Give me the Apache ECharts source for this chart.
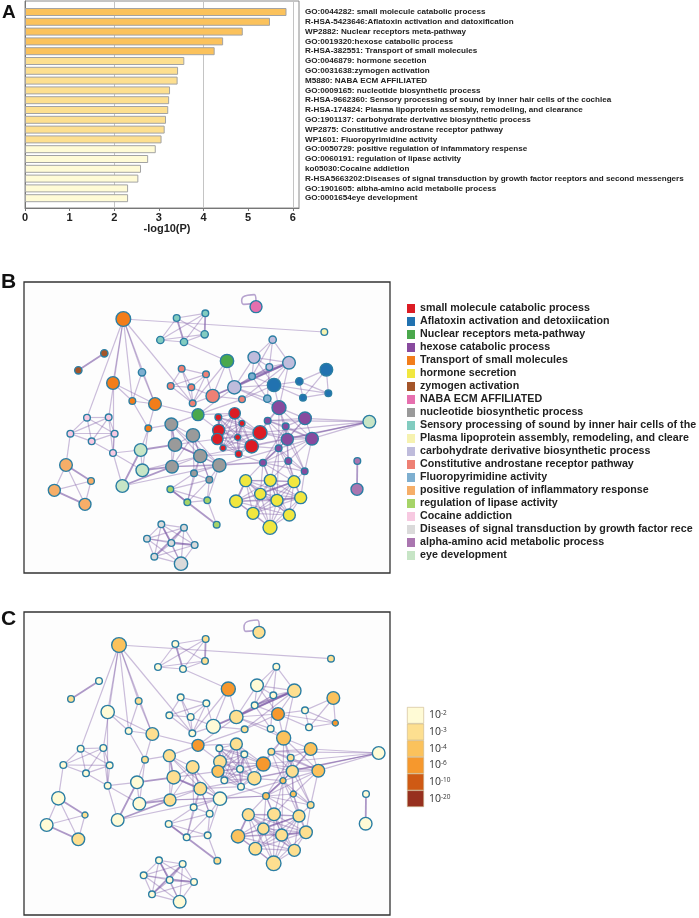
<!DOCTYPE html>
<html><head><meta charset="utf-8">
<style>html,body{margin:0;padding:0;background:#fff}#c{width:699px;height:918px}</style>
<script src="https://cdn.jsdelivr.net/npm/echarts@6/dist/echarts.min.js"></script>
</head><body><div id="c"></div>
<script>
// Panel A
const termLabels = ["GO:0044282: small molecule catabolic process","R-HSA-5423646:Aflatoxin activation and datoxification","WP2882: Nuclear receptors meta-pathway","GO:0019320:hexose catabolic process","R-HSA-382551: Transport of small molecules","GO:0046879: hormone secetion","GO:0031638:zymogen activation","M5880: NABA ECM AFFILIATED","GO:0009165: nucleotide biosynthetic process","R-HSA-9662360: Sensory processing of sound by inner hair cells of the cochlea","R-HSA-174824: Plasma lipoprotein assembly, remodeling, and clearance","GO:1901137: carbohydrate derivative biosynthetic process","WP2875: Constitutive androstane receptor pathway","WP1601: Fluoropyrimidine activity","GO:0050729: positive regulation of infammatory respense","GO:0060191: regulation of lipase activity","ko05030:Cocaine addietion","R-HSA5663202:Diseases of signal transduction by growth factor reeptors and second messengers","GO:1901605: albha-amino acid metabolie process","GO:0001654eye development"];
const logP = [5.86,5.49,4.88,4.44,4.25,3.57,3.43,3.42,3.25,3.23,3.21,3.16,3.13,3.06,2.93,2.76,2.60,2.54,2.31,2.31];
const pClass = [2,2,2,2,2,1,1,1,1,1,1,1,1,1,0,0,0,0,0,0];

// Panel B / C legends
const clusterNames = ["small molecule catabolic process","Aflatoxin activation and detoxiication","Nuclear receptors meta-pathway","hexose catabolic process","Transport of small molecules","hormone secretion","zymogen activation","NABA ECM AFFILIATED","nucleotide biosynthetic process","Sensory processing of sound by inner hair cells of the","Plasma lipoprotein assembly, remodeling, and cleare","carbohydrate derivative biosynthetic process","Constitutive androstane receptor pathway","Fluoropyrimidine activity","positive regulation of inflammatory response","regulation of lipase activity","Cocaine addiction","Diseases of signal transduction by growth factor rece","alpha-amino acid metabolic process","eye development"];
const clusterIds = ["r","b","g","p","o","y","w","k","e","t","a","l","s","f","n","v","i","d","m","h"];
const scaleLabels = ["10{s|-2}","10{s|-3}","10{s|-4}","10{s|-6}","10{s|-10}","10{s|-20}"];

// network B nodes: x, y, radius
const rB=[[704,459,17],[656,510,18],[652,536,17],[780,517,21],[755,558,20],[655,471,10],[726,489,9],[713,531,9],[669,563,9],[716,581,10]];
const bB=[[979,328,19],[822,374,20],[898,363,11],[909,412,10],[985,399,10]];
const gB=[[681,302,20],[594,463,18]];
const pB=[[837,442,21],[915,474,19],[862,537,18],[936,535,19],[803,481,10],[857,498,10],[836,564,10],[865,602,10],[789,607,10],[914,633,10]];
const oB=[[370,176,22],[339,368,19],[465,431,19],[397,422,10],[445,504,10]];
const yB=[[737,661,18],[811,660,18],[882,664,18],[781,701,17],[831,720,18],[902,712,18],[708,723,19],[759,759,18],[868,764,18],[810,801,21]];
const wB=[[313,279,11],[235,330,11]];
const kB=[[768,139,18]];
const eB=[[514,492,19],[579,525,20],[525,553,20],[601,587,20],[516,619,19],[658,615,20],[582,639,10],[628,658,10]];
const tB=[[530,173,10],[616,159,10],[481,239,11],[552,245,11],[614,222,11]];
const aB=[[973,215,10]];
const lB=[[762,291,18],[867,307,19],[703,381,20],[818,238,11],[808,320,10]];
const sB=[[638,407,20],[545,325,10],[618,342,10],[512,377,10],[574,381,10],[578,429,10],[726,417,10]];
const fB=[[426,336,11],[756,348,10],[802,415,11]];
const nB=[[198,614,19],[163,690,18],[255,732,18],[273,662,10]];
const vB=[[511,687,10],[562,726,10],[622,720,10],[650,793,10]];
const iB=[[261,472,10],[326,471,10],[211,520,10],[344,520,10],[275,543,10],[339,578,10]];
const dB=[[484,792,10],[552,802,10],[441,835,10],[514,848,10],[584,854,10],[463,889,10],[543,910,20]];
const mB=[[1072,602,10],[1071,687,18]];
const hB=[[1108,484,19],[422,569,19],[427,630,19],[367,677,19]];

// network C nodes: x, y, radius, p-value class
const rC=[[709,432,18,1],[660,485,19,1],[654,514,18,2],[790,492,21,3],[763,535,20,1],[658,445,10,0],[733,463,10,0],[720,507,10,0],[673,541,10,0],[723,560,10,0]];
const bC=[[1000,294,19,2],[834,342,19,3],[915,331,10,0],[927,382,10,0],[1006,369,9,3]];
const gC=[[685,267,21,3],[594,436,18,3]];
const pC=[[851,414,21,2],[932,447,19,2],[877,514,18,1],[955,512,19,2],[814,455,10,1],[872,473,10,1],[849,542,9,2],[880,582,9,2],[798,588,10,2],[932,615,10,1]];
const oC=[[357,135,22,2],[323,336,20,0],[457,402,19,1],[386,393,10,0],[435,479,10,1]];
const yC=[[745,644,18,1],[822,643,19,1],[897,648,18,1],[790,686,17,1],[845,705,18,1],[918,697,19,1],[714,709,20,2],[766,746,19,1],[883,751,18,1],[821,790,22,1]];
const wC=[[297,243,10,0],[213,297,10,1]];
const kC=[[777,97,18,1]];
const eC=[[508,467,18,1],[578,501,19,1],[521,532,20,1],[601,566,19,1],[510,600,18,1],[660,596,20,0],[581,622,10,0],[629,641,10,0]];
const tC=[[526,132,10,0],[617,117,10,1],[474,201,10,0],[549,207,10,0],[615,183,10,1]];
const aC=[[993,176,10,1]];
const lC=[[771,256,19,0],[883,272,20,1],[709,351,20,1],[829,200,10,0],[820,286,10,0]];
const sC=[[640,379,21,0],[542,292,10,0],[619,310,10,0],[508,346,10,0],[572,351,10,0],[577,400,10,0],[734,388,10,1]];
const fC=[[416,303,10,1],[764,316,10,0],[812,386,10,0]];
const nC=[[175,595,20,0],[140,675,19,0],[235,718,19,1],[255,645,9,1]];
const vC=[[506,672,10,0],[560,712,10,0],[623,706,10,0],[652,782,10,1]];
const iC=[[242,446,10,0],[310,444,10,0],[190,495,10,0],[329,496,10,0],[258,520,10,0],[323,557,10,0]];
const dC=[[477,781,10,0],[548,792,10,0],[431,826,10,0],[509,840,10,0],[582,846,10,0],[456,883,10,0],[539,905,19,0]];
const mC=[[1098,582,10,0],[1097,671,19,0]];
const hC=[[1136,459,19,0],[411,547,19,0],[418,611,19,0],[353,660,19,0]];

// self-loop of the lone NABA node
const loopB=[[756,130],[731,132],[725,120],[743,105],[763,103],[768,124]];
const loopC=[[762,92],[737,94],[732,82],[750,62],[772,60],[778,82]];

// edges: fully connected clusters, then single links
const cliques=[
 ["t0","t1","t2","t3","t4"],["b0","b2","b3","b4"],["b1","b2","b3","b4"],
 ["s1","s2","s3","s4","s5"],["s0","s2","s4","s5"],
 ["r0","r1","r2","r3","r4","r5","r6","r7","r8","r9"],
 ["p0","p1","p2","p3","p4","p5","p6"],["p2","p3","p5","p6","p7","p8","p9"],
 ["y0","y1","y2","y3","y4","y5","y6","y7","y8","y9"],
 ["e0","e1","e2","e3","e4","e5"],["e1","e3","e5","e6","e7"],
 ["i0","i1","i2","i3","i4"],["n0","n1","n2","n3"],
 ["d0","d1","d2","d3","d4","d5","d6"],
 ["l0","l1","l3","l4","f1"],["l2","l4","f1","f2"]
];
const singleLinks=[
 ["o0","i0"],["o0","i1"],["o0","o1"],["o0","o3"],["o0","f0"],["o0","o2"],["o0","a0"],["o0","s5"],
 ["o1","o3"],["o1","o2"],["o1","i5"],["o3","o2"],["f0","o3"],["f0","o2"],["o2","o4"],["o3","o4"],
 ["o4","h1"],["o4","h2"],["o4","e0"],["o2","g1"],["e0","g1"],["t3","g0"],["g0","l2"],["g0","s0"],["g0","s5"],
 ["s0","s6"],["s0","l2"],["s6","l1"],["s6","b1"],["g1","s6"],["g1","l2"],["g1","r0"],["g1","r1"],
 ["l2","l0"],["l2","b1"],["l2","p0"],["f2","p0"],["b1","p0"],["l1","b1"],["l0","b1"],["f1","b1"],["l1","p0"],
 ["r3","p0"],["r3","p4"],["r3","p2"],["r3","p3"],["r4","p6"],["r9","p8"],
 ["h0","p1"],["h0","p2"],["h0","p3"],["h0","p4"],["h0","r3"],["h0","e3"],["h0","r4"],
 ["h1","h3"],["h1","h2"],["i5","h1"],["i5","h3"],["i5","h2"],["i3","i5"],["i4","i5"],["i2","n0"],["i1","i5"],
 ["h3","e5"],["h2","e3"],["e4","p8"],["e5","p8"],["e3","r9"],["e2","r2"],["e5","p6"],
 ["v0","e6"],["v0","e7"],["v1","e6"],["v2","e7"],["v1","e3"],["v2","e5"],["v0","v1"],["v1","v2"],["v0","v2"],["v2","v3"],["v1","e7"],
 ["p8","y0"],["p8","y1"],["p8","y3"],["p8","y2"],["p6","y1"],["p6","y2"],["p6","y4"],["p7","y1"],["p7","y2"],["p7","y5"],["p9","y2"],["p9","y5"],["p8","y4"]
];
const strongLinks=[
 ["w0","w1"],["m0","m1"],["h1","e2"],["h2","e4"],["h3","e4"],["h3","h1"],["v0","v3"],["n1","n2"],["n0","n3"],
 ["l2","l1"],["f1","l1"],["s0","l1"],["e0","e2"],["e2","e3"],["p8","p6"],["y6","y0"],["y3","y2"],["y4","y5"],
 ["r1","r5"],["r6","r7"],["r2","r8"],["d3","d4"],["d0","d3"],["d5","d1"],["t0","t3"],["t1","t4"]
];

const clusterColors=["#dc1c24","#2172b0","#4aa84c","#884a9e","#f27d1a","#f1e73f","#a4552a","#e66fae","#9a9a9a","#82ccc0","#f6f2b0","#bfbcdc","#ee8074","#7eafd0","#f6ae68","#a6d468","#f7c9e1","#dadada","#aa76b0","#c7e5c6"];
const scaleColors=["#fffbd6","#fddf90","#fbc25c","#f6982d","#cf5a14","#97301f"];
const nodeBorder="#2b7ea3";
const edgeColor="#7c5aa6";

const setB=[rB,bB,gB,pB,oB,yB,wB,kB,eB,tB,aB,lB,sB,fB,nB,vB,iB,dB,mB,hB];
const setC=[rC,bC,gC,pC,oC,yC,wC,kC,eC,tC,aC,lC,sC,fC,nC,vC,iC,dC,mC,hC];
function nodes(set,useClass){
  const out=[];
  set.forEach((g,ci)=>g.forEach((n,i)=>{
    const it={name:clusterIds[ci]+i,value:[n[0],n[1]],symbolSize:n[2]*2/3};
    if(useClass) it.itemStyle={color:scaleColors[n[3]]}; else it.category=ci;
    out.push(it);
  }));
  return out;
}
function links(){
  const seen={},out=[];
  const add=(a,b,st)=>{const k=a<b?a+b:b+a;if(seen[k])return;seen[k]=1;out.push({source:a,target:b,lineStyle:st});};
  const strong={width:1.8,opacity:.62},normal={width:1.2,opacity:.4};
  strongLinks.forEach(l=>add(l[0],l[1],strong));
  singleLinks.forEach(l=>add(l[0],l[1],normal));
  cliques.forEach(c=>c.forEach((a,i)=>c.slice(i+1).forEach(b=>add(a,b,normal))));
  return out;
}
function graph(set,ax,useClass){
  const s={type:"graph",layout:"none",coordinateSystem:"cartesian2d",xAxisIndex:ax[0],yAxisIndex:ax[1],
    data:nodes(set,useClass),links:links(),silent:true,
    itemStyle:{borderColor:nodeBorder,borderWidth:1.4},lineStyle:{color:edgeColor},label:{show:false},emphasis:{disabled:true}};
  if(!useClass) s.categories=clusterNames.map((n,i)=>({name:n,itemStyle:{color:clusterColors[i]}}));
  return s;
}
function loop(d,ax){return {type:"line",smooth:.6,data:d,xAxisIndex:ax[0],yAxisIndex:ax[1],symbol:"none",silent:true,z:1,
  lineStyle:{color:"#b7a4cf",width:1.6}};}
const netX=(g,a,b)=>({type:"value",gridIndex:g,min:a,max:b,show:false});
const netY=(g,a,b)=>({type:"value",gridIndex:g,min:a,max:b,inverse:true,show:false});
const barMax=6.14;
const letter={fontFamily:"Liberation Sans",fontWeight:"bold",fontSize:21,color:"#111"};
const chart=echarts.init(document.getElementById("c"),null,{renderer:"canvas"});
chart.setOption({
  animation:false,backgroundColor:"#fff",
  title:[
    {text:"A",left:2,top:3,padding:0,textStyle:Object.assign({},letter,{fontSize:19})},
    {text:"B",left:1,top:272,padding:0,textStyle:letter},
    {text:"C",left:1,top:609,padding:0,textStyle:letter}
  ],
  grid:[
    {left:25,top:1,width:274,height:207,show:true,borderColor:"#8a8a8a",borderWidth:1,backgroundColor:"#fff"},
    {left:25,top:7.1,width:274,height:196},
    {left:24,top:282,width:366,height:291,show:true,borderColor:"#333",borderWidth:1.3,backgroundColor:"#fdfdfd"},
    {left:24,top:612,width:366,height:303,show:true,borderColor:"#333",borderWidth:1.3,backgroundColor:"#fdfdfd"},
    {left:407,top:707,width:17,height:100}
  ],
  xAxis:[
    {type:"value",gridIndex:0,min:0,max:barMax,interval:1,position:"bottom",splitLine:{show:false},
     axisLine:{show:true,lineStyle:{color:"#777",width:1}},axisTick:{show:true,length:3,lineStyle:{color:"#777"}},
     axisLabel:{showMaxLabel:false,color:"#222",fontFamily:"Liberation Sans",fontWeight:"bold",fontSize:11,margin:4},
     name:"-log10(P)",nameLocation:"middle",nameGap:15,nameTextStyle:{color:"#222",fontFamily:"Liberation Sans",fontWeight:"bold",fontSize:11,padding:[0,0,0,10]}},
    {type:"value",gridIndex:0,min:0,max:barMax,interval:2,axisLine:{show:false},axisTick:{show:false},axisLabel:{show:false},
     splitLine:{show:true,lineStyle:{color:"#c4c4c4",width:1}}},
    {type:"value",gridIndex:1,min:0,max:barMax,show:false},
    netX(2,72,1170),netX(3,72,1170),
    {type:"value",gridIndex:4,min:0,max:1,show:false}
  ],
  yAxis:[
    {type:"value",gridIndex:0,min:0,max:1,axisLine:{show:true,lineStyle:{color:"#777"}},axisTick:{show:false},axisLabel:{show:false},splitLine:{show:false}},
    {type:"category",gridIndex:1,data:termLabels,inverse:true,position:"right",axisLine:{show:false},axisTick:{show:false},
     axisLabel:{interval:0,margin:6,color:"#222",fontFamily:"Liberation Sans",fontWeight:"bold",fontSize:8.1}},
    netY(2,65,938),netY(3,36,945),
    {type:"category",gridIndex:4,data:scaleLabels,inverse:true,position:"right",axisLine:{show:false},axisTick:{show:false},
     axisLabel:{interval:0,margin:5,color:"#333",fontFamily:"Open Sans",fontSize:10.5,rich:{s:{fontSize:6.5,verticalAlign:"top",color:"#333",padding:[0,0,4,0]}}}}
  ],
  legend:{left:407,top:302.5,padding:0,orient:"vertical",icon:"rect",itemWidth:8,itemHeight:9,itemGap:1,selectedMode:false,data:clusterNames,
    itemStyle:{borderWidth:0},
    textStyle:{color:"#222",fontFamily:"Liberation Sans",fontWeight:"bold",fontSize:10.7,lineHeight:12}},
  series:[
    {type:"bar",xAxisIndex:2,yAxisIndex:1,barWidth:8,silent:true,
     data:logP.map((v,i)=>({value:v,itemStyle:{color:scaleColors[pClass[i]],borderColor:"#a3a3a3",borderWidth:1}}))},
    loop(loopB,[3,2]),loop(loopC,[4,3]),
    graph(setB,[3,2],false),graph(setC,[4,3],true),
    {type:"bar",xAxisIndex:5,yAxisIndex:4,barWidth:"100%",silent:true,
     data:scaleColors.map(c=>({value:1,itemStyle:{color:c,borderColor:"#c9b58c",borderWidth:.6}}))}
  ]
});
</script></body></html>
